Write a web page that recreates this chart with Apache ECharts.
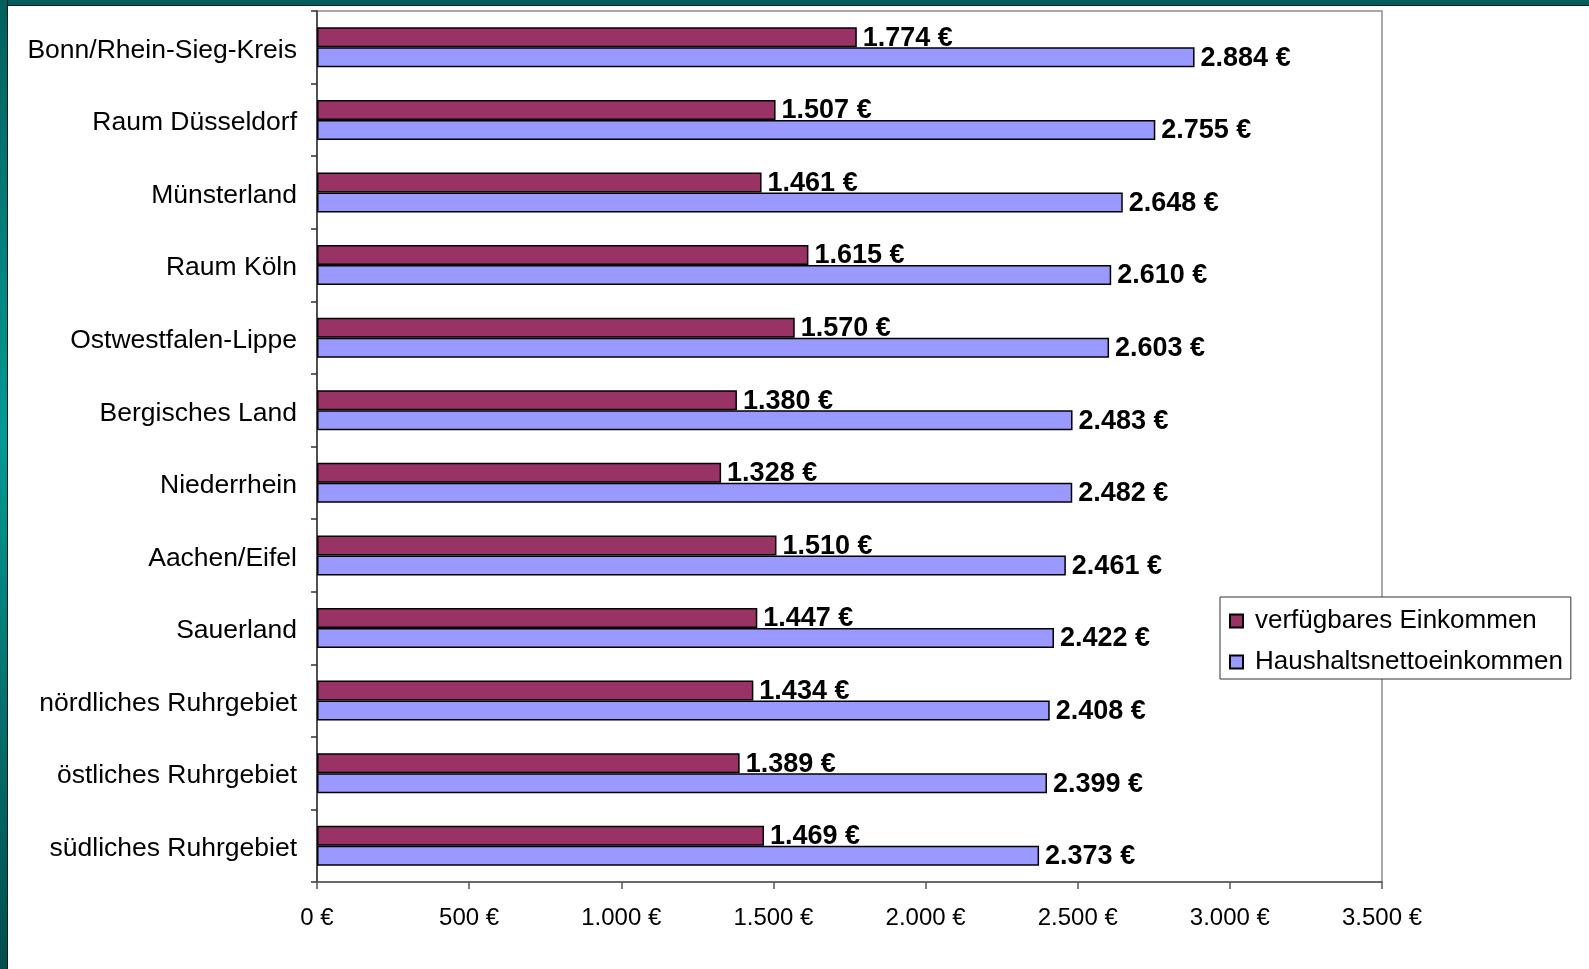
<!DOCTYPE html>
<html>
<head>
<meta charset="utf-8">
<script src="https://cdn.jsdelivr.net/npm/echarts@6/dist/echarts.min.js"></script>
<style>
  html, body { margin: 0; padding: 0; width: 1589px; height: 969px; background: #fff; overflow: hidden; }
  #topbar { position: absolute; left: 0; top: 0; width: 1589px; height: 5px; background: #005f5c; border-bottom: 1px solid #1a1a1a; }
  #leftbar { position: absolute; left: 0; top: 0; width: 7px; height: 969px; background: linear-gradient(to bottom, #005f5c 0%, #009a95 45%, #006e6a 75%, #004f4c 100%); border-right: 1px solid #1a1a1a; }
  #chart { position: absolute; left: 0; top: 0; width: 1589px; height: 969px; }
</style>
</head>
<body>
<div id="topbar"></div>
<div id="leftbar"></div>
<div id="chart"></div>
<script>
const categories = ["Bonn/Rhein-Sieg-Kreis", "Raum Düsseldorf", "Münsterland", "Raum Köln", "Ostwestfalen-Lippe", "Bergisches Land", "Niederrhein", "Aachen/Eifel", "Sauerland", "nördliches Ruhrgebiet", "östliches Ruhrgebiet", "südliches Ruhrgebiet"];
const verfuegbar = [1774, 1507, 1461, 1615, 1570, 1380, 1328, 1510, 1447, 1434, 1389, 1469];
const haushalt = [2884, 2755, 2648, 2610, 2603, 2483, 2482, 2461, 2422, 2408, 2399, 2373];
const seriesNames = ["verfügbares Einkommen", "Haushaltsnettoeinkommen"];
const xTicks = { min: 0, max: 3500, interval: 500 };

function fmt(v) {
  return String(v).replace(/\B(?=(\d{3})+(?!\d))/g, '.') + ' €';
}
const FONT = '"Liberation Sans", Arial, sans-serif';

const chart = echarts.init(document.getElementById('chart'), null, { renderer: 'canvas' });
const labelCfg = {
  show: true, position: 'right', distance: 6, offset: [0, 1],
  formatter: p => fmt(p.value),
  fontFamily: FONT, fontSize: 27, fontWeight: 'bold', color: '#000'
};
chart.setOption({
  animation: false,
  backgroundColor: 'transparent',
  grid: {
    left: 317, top: 11, right: 207, bottom: 87,
    show: true, borderColor: '#8c8c8c', borderWidth: 1.5, backgroundColor: '#fff'
  },
  legend: {
    orient: 'vertical', left: 1220, top: 597,
    data: seriesNames,
    icon: 'rect', itemWidth: 13, itemHeight: 13, itemGap: 15,
    padding: [11, 8, 4, 9],
    backgroundColor: '#fff', borderColor: '#333', borderWidth: 1,
    textStyle: { fontFamily: FONT, fontSize: 26, color: '#000', padding: [0, 0, 0, 7] }
  },
  xAxis: {
    type: 'value', min: xTicks.min, max: xTicks.max, interval: xTicks.interval,
    axisLine: { show: true, lineStyle: { color: '#555', width: 1.5 } },
    axisTick: { show: true, length: 7, lineStyle: { color: '#555', width: 1.5 } },
    splitLine: { show: false },
    axisLabel: { formatter: fmt, fontFamily: FONT, fontSize: 24, color: '#000', margin: 24 }
  },
  yAxis: {
    type: 'category', inverse: true, data: categories,
    axisLine: { show: true, lineStyle: { color: '#333', width: 1.5 } },
    axisTick: { show: true, length: 6, lineStyle: { color: '#333', width: 1.5 } },
    axisLabel: { fontFamily: FONT, fontSize: 26.5, color: '#000', margin: 20, verticalAlign: 'top', lineHeight: 6 }
  },
  series: [
    {
      name: seriesNames[0], type: 'bar', data: verfuegbar, barWidth: 20, barGap: '0%',
      itemStyle: { color: '#993366', borderColor: '#000', borderWidth: 1.5 },
      label: labelCfg
    },
    {
      name: seriesNames[1], type: 'bar', data: haushalt, barWidth: 20, barGap: '0%',
      itemStyle: { color: '#9999ff', borderColor: '#000', borderWidth: 1.5 },
      label: labelCfg
    }
  ]
});
</script>
</body>
</html>
